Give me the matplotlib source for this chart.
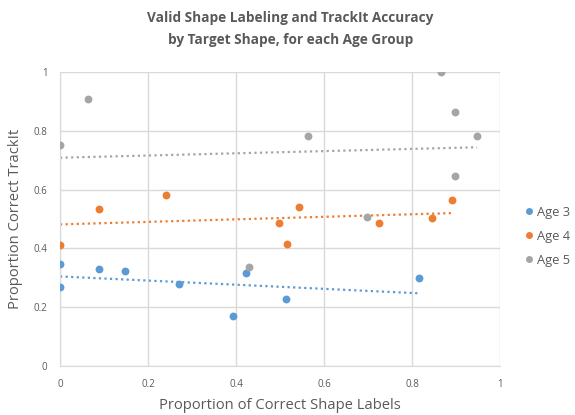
import numpy as np
import matplotlib
matplotlib.use('Agg')
import matplotlib.pyplot as plt
from matplotlib.lines import Line2D

# proportion of correct shape labels (x) vs proportion correct TrackIt (y)
age3_x = [0.0, 0.0, 0.088, 0.148, 0.271, 0.394, 0.422, 0.514, 0.817]
age3_y = [0.346, 0.268, 0.329, 0.324, 0.278, 0.170, 0.315, 0.227, 0.298]

age4_x = [0.0, 0.088, 0.242, 0.498, 0.515, 0.544, 0.726, 0.846, 0.892]
age4_y = [0.410, 0.534, 0.580, 0.488, 0.414, 0.540, 0.488, 0.505, 0.563]

age5_x = [0.0, 0.064, 0.430, 0.564, 0.698, 0.866, 0.898, 0.898, 0.948]
age5_y = [0.752, 0.907, 0.338, 0.782, 0.506, 1.0, 0.864, 0.646, 0.782]

labels = ['Age 3', 'Age 4', 'Age 5']
colors = ['#5B9BD5', '#ED7D31', '#A5A5A5']
ticks = [0, 0.2, 0.4, 0.6, 0.8, 1]
tick_labels = ['0', '0.2', '0.4', '0.6', '0.8', '1']

TEXT = '#595959'
plt.rcParams['font.family'] = ['Open Sans', 'DejaVu Sans']

fig = plt.figure(figsize=(5.75, 4.15), dpi=100)
ax = fig.add_axes([60 / 575, 1 - 366 / 415, 440 / 575, 294 / 415])

series = [(age3_x, age3_y), (age4_x, age4_y), (age5_x, age5_y)]
for (xs, ys), col in zip(series, colors):
    xs = np.array(xs)
    ys = np.array(ys)
    ax.scatter(xs, ys, s=32, color=col, zorder=3, linewidths=0)
    # linear trendline over the data range
    k, b = np.polyfit(xs, ys, 1)
    xt = np.array([xs.min(), xs.max()])
    ax.plot(xt, k * xt + b, color=col, lw=1.6, ls=(0, (1, 1.5)), zorder=2)

ax.set_xlim(0, 1)
ax.set_ylim(0, 1)
ax.set_xticks(ticks)
ax.set_xticklabels(tick_labels)
ax.set_yticks(ticks)
ax.set_yticklabels(tick_labels)
ax.grid(True, color='#D9D9D9', lw=1)
ax.set_axisbelow(True)
for side in ['top', 'right']:
    ax.spines[side].set_visible(False)
for side in ['left', 'bottom']:
    ax.spines[side].set_color('#D9D9D9')
ax.tick_params(length=0, colors=TEXT, labelsize=7, pad=9)

ax.set_xlabel('Proportion of Correct Shape Labels', fontsize=10.6, color=TEXT, labelpad=6)
ax.set_ylabel('Proportion Correct TrackIt', fontsize=10.6, color=TEXT, labelpad=8)

fig.text(0.505, 1 - 29 / 415,
         'Valid Shape Labeling and TrackIt Accuracy\nby Target Shape, for each Age Group',
         ha='center', va='center', fontsize=9.8, fontweight='bold', color=TEXT,
         linespacing=1.75)

handles = [Line2D([], [], ls='', marker='o', markersize=5, color=c, markeredgewidth=0)
           for c in colors]
fig.legend(handles, labels, loc='upper left', bbox_to_anchor=(525 / 575, 1 - 206 / 415),
           frameon=False, fontsize=9.3, labelcolor=TEXT, handlelength=0.6,
           handletextpad=0.35, labelspacing=0.85, borderaxespad=0, borderpad=0)

fig.savefig('out.png', dpi=100)
